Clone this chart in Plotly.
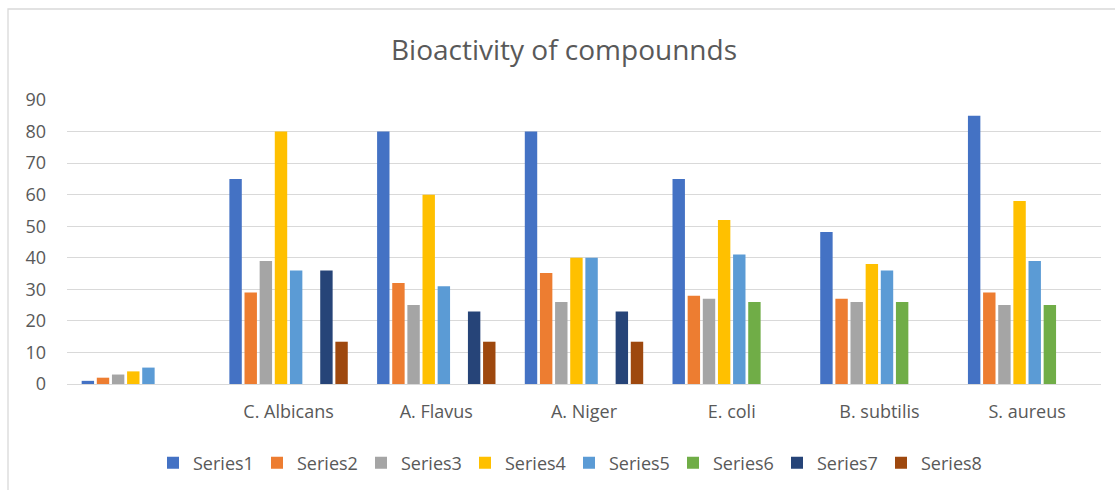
import plotly.graph_objects as go

categories = [" ", "C. Albicans", "A. Flavus", "A. Niger", "E. coli", "B. subtilis", "S. aureus"]
series_names = ["Series1", "Series2", "Series3", "Series4", "Series5", "Series6", "Series7", "Series8"]
series1 = [1, 65, 80, 80, 65, 48.2, 85]
series2 = [2, 29, 32, 35.2, 28, 27, 29]
series3 = [3, 39, 25, 26, 27, 26, 25]
series4 = [4, 80, 60, 40, 52, 38, 58]
series5 = [5.2, 36, 31, 40, 41, 36, 39]
series6 = [None, None, None, None, 26, 26, 25]
series7 = [None, 36, 23, 23, None, None, None]
series8 = [None, 13.4, 13.4, 13.4, None, None, None]
colors = ["#4472C4", "#ED7D31", "#A5A5A5", "#FFC000", "#5B9BD5", "#70AD47", "#264478", "#9E480E"]

all_series = [series1, series2, series3, series4, series5, series6, series7, series8]

fig = go.Figure()
for name, vals, col in zip(series_names, all_series, colors):
    fig.add_trace(go.Bar(x=categories, y=vals, name=name, marker_color=col,
                         marker_line_width=0))

W, H = 1115, 490
ml, mr, mt, mb = 67, 14, 100, 106
font = "Open Sans"
fig.update_layout(
    width=W, height=H,
    margin=dict(l=ml, r=mr, t=mt, b=mb, autoexpand=False),
    paper_bgcolor="white", plot_bgcolor="white",
    barmode="group", bargap=0.18, bargroupgap=0.18,
    font=dict(family=font, color="#595959", size=18),
    title=dict(text="Bioactivity of compounnds", x=564 / W, xref="container",
               y=1 - 50 / H, yref="container", xanchor="center", yanchor="middle",
               font=dict(size=28, color="#595959", family=font)),
    showlegend=True,
    legend=dict(orientation="h", x=569 / W, xref="container", xanchor="center",
                y=1 - 463 / H, yref="container", yanchor="middle",
                font=dict(size=18, color="#595959"), itemwidth=30, traceorder="normal",
                entrywidth=59, entrywidthmode="pixels"),
    xaxis=dict(type="category", showgrid=False, showline=False, ticks="", automargin=False,
               tickfont=dict(size=18, color="#595959"), ticklabelstandoff=15),
    yaxis=dict(range=[0, 90], dtick=10, showgrid=True, gridcolor="#D9D9D9", gridwidth=1.3,
               zeroline=True, zerolinecolor="#D9D9D9", zerolinewidth=1.3, showline=False,
               automargin=False,
               tickfont=dict(size=18, color="#595959"), ticklabelstandoff=20),
)

# light chart-area border (top and left edges visible in the frame)
x0 = (8 - ml) / (W - ml - mr)
x1 = (1130 - ml) / (W - ml - mr)
y0 = (H - mb - 500) / (H - mt - mb)
y1 = (H - mb - 9) / (H - mt - mb)
fig.add_shape(type="rect", xref="paper", yref="paper", x0=x0, x1=x1, y0=y0, y1=y1,
              line=dict(color="#D9D9D9", width=1.3), layer="below")

fig.write_html("out.html", config={"displayModeBar": False},
               post_script="document.body.style.margin='0';document.body.style.overflow='hidden';")
